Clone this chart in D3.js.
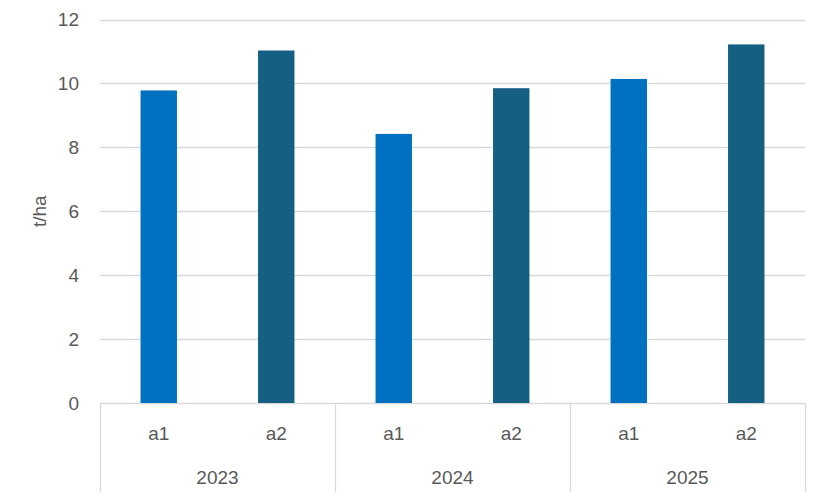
<!DOCTYPE html>
<html>
<head>
<meta charset="utf-8">
<script src="https://cdn.jsdelivr.net/npm/d3@7"></script>
<style>
  html, body { margin: 0; padding: 0; background: #fff; }
  svg text { font-family: "Liberation Sans", Arial, sans-serif; fill: #595959; }
</style>
</head>
<body>
<svg id="chart" width="820" height="497"></svg>
<script>
const years = ["2023", "2024", "2025"];
const subCategories = ["a1", "a2"];
const values = [9.78, 11.03, 8.42, 9.85, 10.14, 11.22];
const yTicks = [0, 2, 4, 6, 8, 10, 12];
const colors = { a1: "#0070C0", a2: "#156082" };
const yTitle = "t/ha";

(function () {
const svg = d3.select("#chart");
const mLeft = 100, mRight = 805, mTop = 19.5, mBottom = 403;
const fs = "19px";

const items = [];
years.forEach((yr, i) => subCategories.forEach((s, j) => {
  items.push({ year: yr, sub: s, key: yr + "-" + s, value: values[i * subCategories.length + j] });
}));

const x = d3.scaleBand().domain(items.map(d => d.key)).range([mLeft, mRight])
  .paddingInner(0.69).paddingOuter(0.345);
const xYear = d3.scaleBand().domain(years).range([mLeft, mRight]);
const y = d3.scaleLinear().domain([0, 12]).range([mBottom, mTop]);

// gridlines
svg.append("g").selectAll("line").data(yTicks).join("line")
  .attr("x1", mLeft).attr("x2", mRight)
  .attr("y1", d => Math.round(y(d)) + 0.5).attr("y2", d => Math.round(y(d)) + 0.5)
  .attr("stroke", "#D9D9D9").attr("stroke-width", 1.3);

// y tick labels
svg.append("g").selectAll("text").data(yTicks).join("text")
  .attr("x", 79).attr("y", d => y(d)).attr("dy", "0.35em")
  .attr("text-anchor", "end").style("font-size", fs)
  .text(d => d);

// y title
svg.append("text")
  .attr("transform", `translate(39,${(mTop + mBottom) / 2}) rotate(-90)`)
  .attr("text-anchor", "middle").attr("dy", "0.35em")
  .style("font-size", fs).text(yTitle);

// bars
svg.append("g").selectAll("rect").data(items).join("rect")
  .attr("x", d => x(d.key)).attr("width", x.bandwidth())
  .attr("y", d => y(d.value)).attr("height", d => y(0) - y(d.value))
  .attr("fill", d => colors[d.sub]);

// group separators
const seps = years.map(yr => xYear(yr)).concat([mRight]);
svg.append("g").selectAll("line").data(seps).join("line")
  .attr("x1", d => Math.round(d) + 0.5).attr("x2", d => Math.round(d) + 0.5)
  .attr("y1", mBottom).attr("y2", 492)
  .attr("stroke", "#D9D9D9").attr("stroke-width", 1.3);

// sub labels
svg.append("g").selectAll("text").data(items).join("text")
  .attr("x", d => x(d.key) + x.bandwidth() / 2).attr("y", 433).attr("dy", "0.35em")
  .attr("text-anchor", "middle").style("font-size", fs)
  .text(d => d.sub);

// year labels
svg.append("g").selectAll("text").data(years).join("text")
  .attr("x", d => xYear(d) + xYear.bandwidth() / 2).attr("y", 477).attr("dy", "0.35em")
  .attr("text-anchor", "middle").style("font-size", fs)
  .text(d => d);
})();
</script>
</body>
</html>
